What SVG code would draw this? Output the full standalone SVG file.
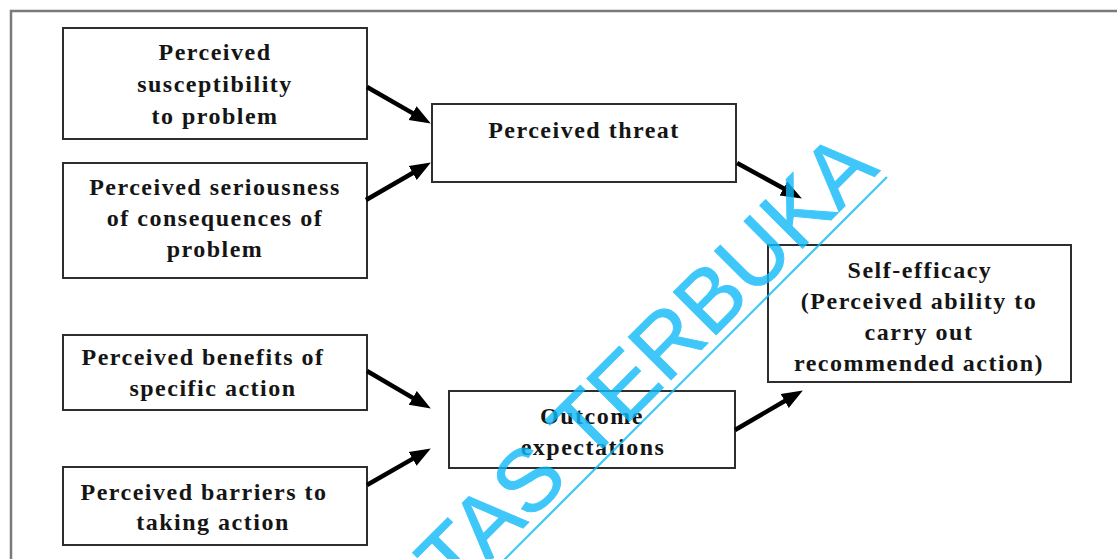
<svg xmlns="http://www.w3.org/2000/svg" width="1117" height="559" viewBox="0 0 1117 559">
  <style>
    .frame { fill: none; stroke: #7a7a7a; stroke-width: 2.5; }
    .box { fill: #ffffff; stroke: #2e2e2e; stroke-width: 2; }
    .lbl { font-family: "Liberation Serif", "Times New Roman", serif; font-weight: bold; font-size: 24px; letter-spacing: 1.5px; fill: #151515; text-anchor: middle; }
    .conn { stroke: #000000; stroke-width: 4.5; fill: none; }
    .mark { font-family: "Liberation Sans", Arial, sans-serif; font-size: 88px; fill: #10baf9; stroke: #10baf9; stroke-width: 1; }
  </style>
  <defs>
    <marker id="head" markerUnits="userSpaceOnUse" markerWidth="22" markerHeight="18" viewBox="0 0 22 18" refX="6" refY="9" orient="auto">
      <path d="M0,1 L21,9 L0,17 Z" fill="#000000"/>
    </marker>
  </defs>

  <rect width="1117" height="559" fill="#ffffff"/>
  <!-- page frame: top and left edges -->
  <path class="frame" d="M11,559 V11 H1117"/>

  <g id="susceptibility">
    <rect class="box" x="63" y="28" width="304" height="111"/>
    <text class="lbl" x="215" y="60">Perceived</text>
    <text class="lbl" x="215" y="92">susceptibility</text>
    <text class="lbl" x="215" y="124">to problem</text>
  </g>

  <g id="seriousness">
    <rect class="box" x="63" y="163" width="304" height="115"/>
    <text class="lbl" x="215" y="195">Perceived seriousness</text>
    <text class="lbl" x="215" y="226">of consequences of</text>
    <text class="lbl" x="215" y="257">problem</text>
  </g>

  <g id="threat">
    <rect class="box" x="432" y="104" width="304" height="78"/>
    <text class="lbl" x="584" y="138">Perceived threat</text>
  </g>

  <g id="self-efficacy">
    <rect class="box" x="768" y="245" width="303" height="137"/>
    <text class="lbl" x="920" y="278">Self-efficacy</text>
    <text class="lbl" x="919" y="309">(Perceived ability to</text>
    <text class="lbl" x="919" y="340">carry out</text>
    <text class="lbl" x="919" y="371">recommended action)</text>
  </g>

  <g id="benefits">
    <rect class="box" x="63" y="335" width="304" height="75"/>
    <text class="lbl" x="203" y="365">Perceived benefits of</text>
    <text class="lbl" x="213" y="396">specific action</text>
  </g>

  <g id="barriers">
    <rect class="box" x="63" y="467" width="304" height="78"/>
    <text class="lbl" x="204" y="500">Perceived barriers to</text>
    <text class="lbl" x="213" y="530">taking action</text>
  </g>

  <g id="outcome">
    <rect class="box" x="449" y="391" width="286" height="77"/>
    <text class="lbl" x="592" y="424">Outcome</text>
    <text class="lbl" x="593" y="455">expectations</text>
  </g>

  <g id="connectors">
    <line class="conn" x1="367" y1="87" x2="417.8" y2="116.1" marker-end="url(#head)"/>
    <line class="conn" x1="366" y1="200" x2="417.9" y2="170" marker-end="url(#head)"/>
    <line class="conn" x1="737" y1="163" x2="788.7" y2="191.3" marker-end="url(#head)"/>
    <line class="conn" x1="367" y1="371" x2="417.9" y2="400.9" marker-end="url(#head)"/>
    <line class="conn" x1="367" y1="485" x2="417.8" y2="455.9" marker-end="url(#head)"/>
    <line class="conn" x1="735" y1="430" x2="789.9" y2="398" marker-end="url(#head)"/>
  </g>

  <!-- diagonal stamp across the page -->
  <g id="stamp" opacity="0.8">
    <text class="mark" x="880.5" y="170.5" text-anchor="end" transform="rotate(-45 880.5 170.5)">TAS TERBUKA</text>
    <line x1="470" y1="594" x2="887" y2="177" stroke="#10baf9" stroke-width="2.2"/>
  </g>
</svg>
